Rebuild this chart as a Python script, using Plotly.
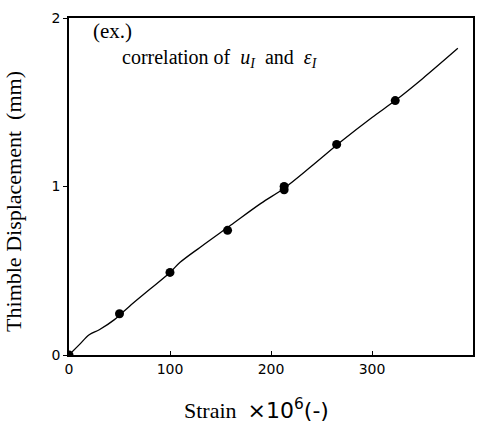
import plotly.graph_objects as go

# measured points
strain_pts = [0, 50, 100, 157, 213, 213, 265, 323]
disp_pts = [0.0, 0.245, 0.49, 0.74, 0.98, 1.00, 1.25, 1.51]

# fitted curve
strain_line = [0, 10, 20, 30, 45, 60, 80, 100, 110, 130, 160, 190, 213, 240, 270, 300, 323, 350, 385]
disp_line = [0.0, 0.06, 0.12, 0.15, 0.21, 0.29, 0.39, 0.49, 0.55, 0.64, 0.77, 0.90, 0.99, 1.12, 1.27, 1.41, 1.51, 1.64, 1.82]

x_ticks = [0, 100, 200, 300, 400]
y_ticks = [0, 1, 2]

fig = go.Figure()
fig.add_trace(go.Scatter(x=strain_line, y=disp_line, mode="lines",
                         line=dict(color="black", width=1.3), line_shape="spline",
                         showlegend=False, hoverinfo="skip"))
fig.add_trace(go.Scatter(x=strain_pts, y=disp_pts, mode="markers",
                         marker=dict(color="black", size=9), showlegend=False))

serif = "Liberation Serif, Times New Roman, serif"
sans = "DejaVu Sans, sans-serif"

fig.update_layout(
    width=485, height=429,
    margin=dict(l=69, r=10, t=17, b=74),
    paper_bgcolor="white", plot_bgcolor="white",
    xaxis=dict(range=[0, 400], tickvals=x_ticks, ticktext=[str(v) for v in x_ticks],
               showgrid=False, zeroline=False, showline=True, mirror=True,
               linecolor="black", linewidth=1.5, ticks="inside", ticklen=4,
               tickcolor="black", tickfont=dict(family=sans, size=14, color="black")),
    yaxis=dict(range=[0, 2], tickvals=y_ticks, ticktext=[str(v) for v in y_ticks],
               showgrid=False, zeroline=False, showline=True, mirror=True,
               linecolor="black", linewidth=1.5, ticks="outside", ticklen=4,
               tickcolor="black", tickfont=dict(family=sans, size=14, color="black")),
    annotations=[
        dict(text="(ex.)", xref="paper", yref="paper", x=0.054, y=0.962,
             xanchor="left", yanchor="middle", showarrow=False,
             font=dict(family=serif, size=21, color="black")),
        dict(text="correlation of  <i>u</i><sub><i>I</i></sub>  and  <i>ε</i><sub><i>I</i></sub>",
             xref="paper", yref="paper", x=0.125, y=0.88,
             xanchor="left", yanchor="middle", showarrow=False,
             font=dict(family=serif, size=20, color="black")),
        dict(text="Thimble Displacement  (mm)", xref="paper", yref="paper",
             x=-0.138, y=0.455, textangle=-90, xanchor="center", yanchor="middle",
             showarrow=False, font=dict(family=serif, size=22, color="black")),
        dict(text="Strain  <span style=\"font-family:DejaVu Sans\">×10<sup>6</sup>(-)</span>",
             xref="paper", yref="paper", x=0.465, y=-0.16, xanchor="center",
             yanchor="middle", showarrow=False,
             font=dict(family=serif, size=22, color="black")),
    ],
)

fig.write_html("out.html")
